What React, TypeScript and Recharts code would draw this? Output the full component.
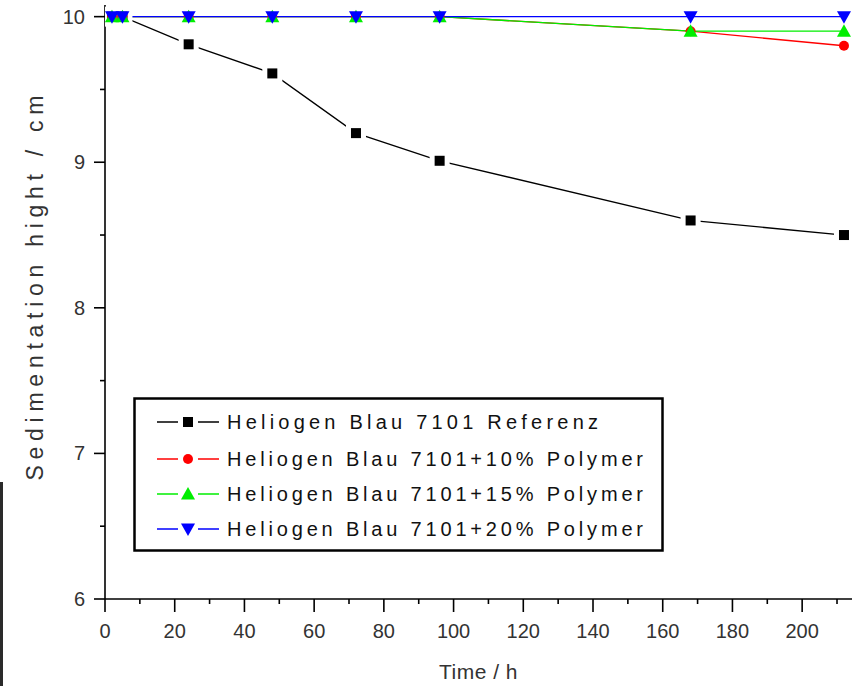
import React from 'react';
import { LineChart, Line, XAxis, YAxis, Legend } from 'recharts';

const times = [2, 5, 24, 48, 72, 96, 168, 212];
const referenz = [10, 10, 9.81, 9.61, 9.2, 9.01, 8.6, 8.5];
const polymer10 = [10, 10, 10, 10, 10, 10, 9.9, 9.8];
const polymer15 = [10, 10, 10, 10, 10, 10, 9.9, 9.9];
const polymer20 = [10, 10, 10, 10, 10, 10, 10, 10];

const xTicks = [0, 10, 20, 30, 40, 50, 60, 70, 80, 90, 100, 110, 120, 130, 140, 150, 160, 170, 180, 190, 200, 210];
const yTicks = [6, 6.5, 7, 7.5, 8, 8.5, 9, 9.5, 10];

const seriesNames = [
  'Heliogen Blau 7101 Referenz',
  'Heliogen Blau 7101+10% Polymer',
  'Heliogen Blau 7101+15% Polymer',
  'Heliogen Blau 7101+20% Polymer',
];
const seriesColors = ['#000000', '#ff0000', '#00ee00', '#0000ff'];

const data = times.map((t, i) => ({
  t,
  ref: referenz[i],
  p10: polymer10[i],
  p15: polymer15[i],
  p20: polymer20[i],
}));

const FONT = 'Arial, "Liberation Sans", sans-serif';

function Marker({ kind, cx, cy, color }: { kind: number; cx: number; cy: number; color: string }) {
  if (kind === 0) return <rect x={cx - 5} y={cy - 5} width={10} height={10} fill={color} />;
  if (kind === 1) return <circle cx={cx} cy={cy} r={5} fill={color} />;
  if (kind === 2)
    return <polygon points={`${cx},${cy - 7} ${cx - 7},${cy + 5.5} ${cx + 7},${cy + 5.5}`} fill={color} />;
  return <polygon points={`${cx - 7},${cy - 5.5} ${cx + 7},${cy - 5.5} ${cx},${cy + 7}`} fill={color} />;
}

const makeDot = (kind: number, halo: boolean) => (p: any) => (
  <g key={`d${kind}-${p.index}`}>
    {halo && <rect x={p.cx - 10} y={p.cy - 10} width={20} height={20} fill="#fff" />}
    <Marker kind={kind} cx={p.cx} cy={p.cy} color={seriesColors[kind]} />
  </g>
);

const XTick = (props: any) => {
  const { x, y, payload } = props;
  const v = payload.value;
  const major = v % 20 === 0;
  return (
    <g>
      <line x1={x} x2={x} y1={y} y2={y + (major ? 13 : 5)} stroke="#000" strokeWidth={1.6} />
      {major && (
        <text x={x} y={y + 39} textAnchor="middle" fontSize={20} fill="#333" fontFamily={FONT}>
          {v}
        </text>
      )}
    </g>
  );
};

const YTick = (props: any) => {
  const { x, y, payload } = props;
  const v = payload.value;
  const major = Number.isInteger(v);
  return (
    <g>
      <line x1={x} x2={x - (major ? 11 : 5)} y1={y} y2={y} stroke="#000" strokeWidth={1.6} />
      {major && (
        <text x={x - 20} y={y + 7} textAnchor="end" fontSize={20} fill="#333" fontFamily={FONT}>
          {v}
        </text>
      )}
    </g>
  );
};

const YLabel = (props: any) => {
  const vb = props.viewBox || { x: 0, y: 5, width: 105, height: 594 };
  const cx = vb.x + 43;
  const cy = vb.y + vb.height / 2 - 14;
  return (
    <text
      x={cx}
      y={cy}
      transform={`rotate(-90, ${cx}, ${cy})`}
      textAnchor="middle"
      fontSize={23}
      fill="#333"
      fontFamily={FONT}
      textLength={385}
      lengthAdjust="spacing"
    >
      Sedimentation hight / cm
    </text>
  );
};

const textLengths = [371, 416, 416, 416];
const rowY = [25, 62, 97, 132];

const LegendBox = () => (
  <svg width={532} height={156} style={{ display: 'block' }}>
    <rect x={1.5} y={1.5} width={528} height={152} fill="#fff" stroke="#000" strokeWidth={2.5} />
    {seriesNames.map((name, i) => (
      <g key={name}>
        <line x1={24} x2={45} y1={rowY[i]} y2={rowY[i]} stroke={seriesColors[i]} strokeWidth={1.5} />
        <line x1={65} x2={86} y1={rowY[i]} y2={rowY[i]} stroke={seriesColors[i]} strokeWidth={1.5} />
        <Marker kind={i} cx={55} cy={rowY[i]} color={seriesColors[i]} />
        <text
          x={94}
          y={rowY[i] + 7}
          fontSize={20}
          fill="#111"
          fontFamily={FONT}
          textLength={textLengths[i]}
          lengthAdjust="spacing"
        >
          {name}
        </text>
      </g>
    ))}
  </svg>
);

export default function App() {
  return (
    <div style={{ position: 'absolute', left: 0, top: 0, width: 857, height: 686, background: '#fff' }}>
      <div style={{ position: 'absolute', left: 0, top: 482, width: 3, height: 204, background: '#2a2a2a' }} />
      <LineChart width={857} height={686} data={data} margin={{ top: 5, right: 5, bottom: 0, left: 0 }}>
        <XAxis
          type="number"
          dataKey="t"
          domain={[0, 214.3]}
          ticks={xTicks}
          allowDataOverflow
          height={87}
          tickSize={0}
          tickMargin={0}
          tickLine={false}
          tick={<XTick />}
          interval={0}
          axisLine={{ stroke: '#000', strokeWidth: 1.6 }}
          label={{
            value: 'Time / h',
            position: 'insideBottom',
            offset: 7,
            fontSize: 21,
            fill: '#333',
            fontFamily: FONT,
            letterSpacing: 0.5,
          }}
        />
        <YAxis
          type="number"
          domain={[6, 10.08]}
          ticks={yTicks}
          allowDataOverflow
          width={105}
          tickSize={0}
          tickMargin={0}
          tickLine={false}
          tick={<YTick />}
          interval={0}
          axisLine={{ stroke: '#000', strokeWidth: 1.6 }}
          label={<YLabel />}
        />
        <Legend
          layout="horizontal"
          verticalAlign="middle"
          align="center"
          content={() => <LegendBox />}
          wrapperStyle={{ left: 133, top: 397, width: 532, height: 156 }}
        />
        <Line
          type="linear"
          dataKey="ref"
          stroke="#000"
          strokeWidth={1.3}
          dot={makeDot(0, true)}
          activeDot={false}
          isAnimationActive={false}
        />
        <Line
          type="linear"
          dataKey="p10"
          stroke="#ff0000"
          strokeWidth={1.3}
          dot={makeDot(1, false)}
          activeDot={false}
          isAnimationActive={false}
        />
        <Line
          type="linear"
          dataKey="p15"
          stroke="#00ee00"
          strokeWidth={1.3}
          dot={makeDot(2, false)}
          activeDot={false}
          isAnimationActive={false}
        />
        <Line
          type="linear"
          dataKey="p20"
          stroke="#0000ff"
          strokeWidth={1.3}
          dot={makeDot(3, false)}
          activeDot={false}
          isAnimationActive={false}
        />
      </LineChart>
    </div>
  );
}
